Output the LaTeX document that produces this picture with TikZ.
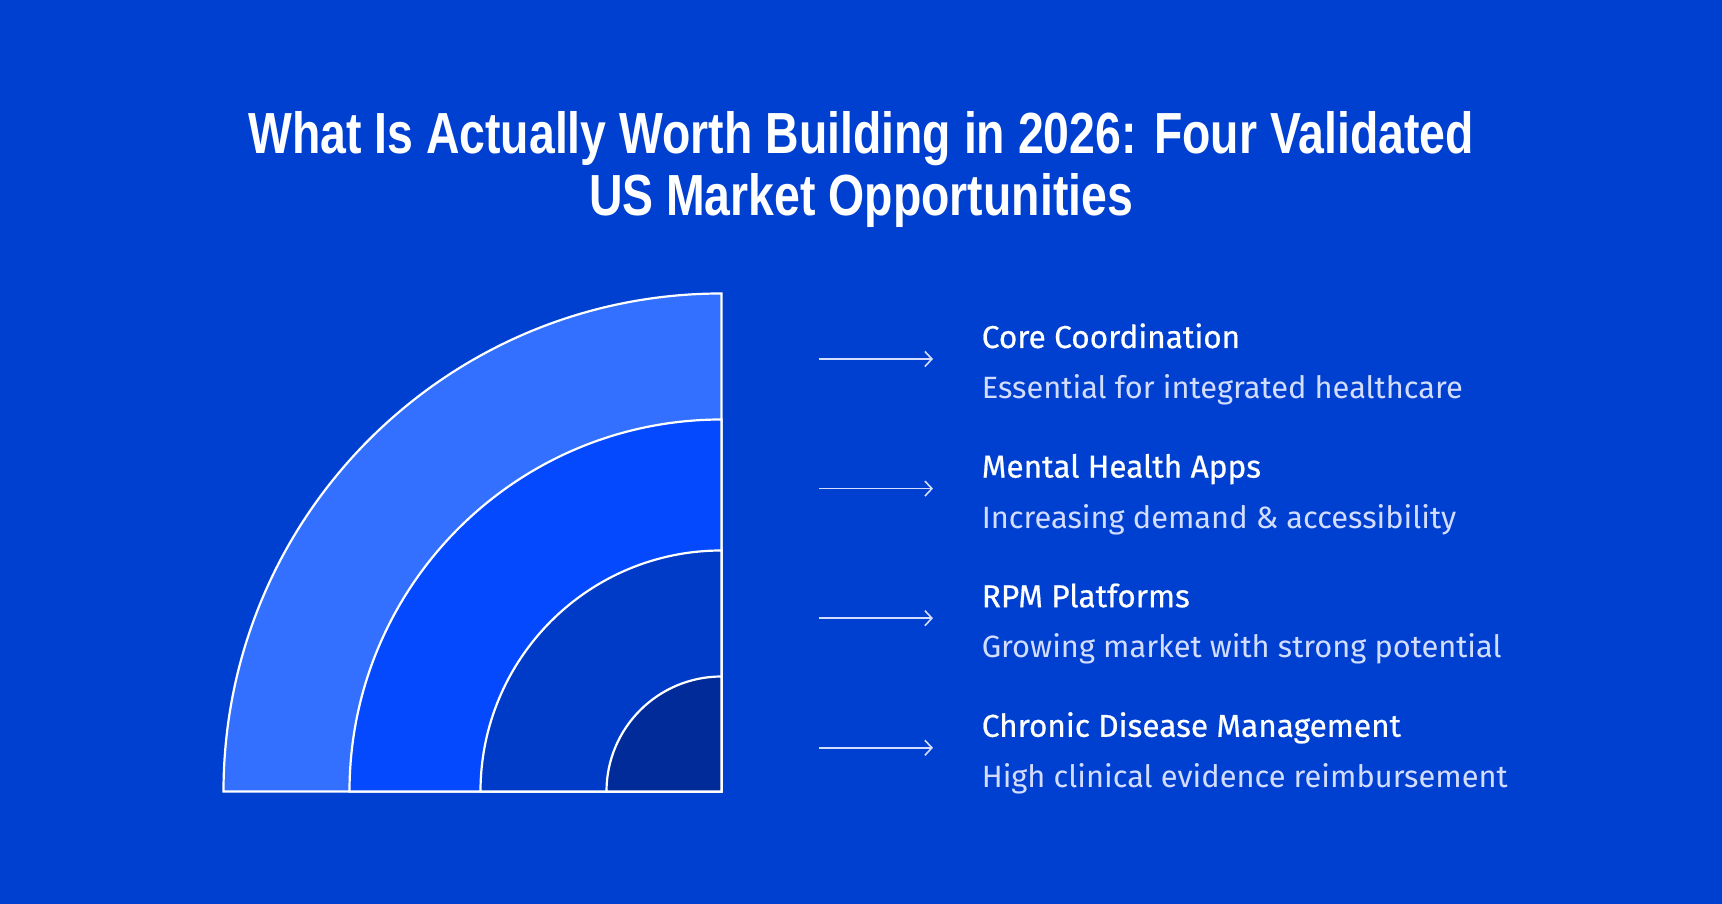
\documentclass[tikz,border=0pt]{standalone}
\usepackage{fontspec}
\setmainfont{Fira Sans}
\newfontfamily\titlefont[FakeStretch=0.80]{Liberation Sans}
\newfontfamily\headfont[FakeBold=0.6]{Fira Sans}
\usepackage{xcolor}
\usepackage{tikz}
\usetikzlibrary{arrows.meta}
\definecolor{bgblue}{HTML}{0040D0}
\definecolor{ringa}{HTML}{3370FF}
\definecolor{ringb}{HTML}{0549FF}
\definecolor{ringc}{HTML}{003BC8}
\definecolor{ringd}{HTML}{002B99}
\definecolor{subtxt}{HTML}{D2DDFF}
\tikzset{
  ring/.style={draw=white,line width=2.2pt},
  head/.style={anchor=base west,text=white,inner sep=0pt,font=\headfont\fontsize{31.6}{36}\selectfont},
  sub/.style={anchor=base west,text=subtxt,inner sep=0pt,font=\fontsize{30.8}{36}\selectfont},
  pointer/.style={draw=subtxt,line width=1.6pt,-{Straight Barb[length=7pt,width=15pt]}}
}

\begin{document}
\begin{tikzpicture}[x=1pt,y=1pt]
\fill[bgblue] (0,0) rectangle (1722,904);
\useasboundingbox (0,0) rectangle (1722,904);

\node[anchor=base,text=white,align=center,inner sep=0pt,font=\titlefont\bfseries\fontsize{58}{62.6}\selectfont] (title) at (861,688)
  {What Is Actually Worth Building in 2026: Four Validated\\US Market Opportunities};

\coordinate (o) at (721.5,112.5);
\filldraw[ring,fill=ringa] (o) -- ++(-498,0) arc[start angle=180,end angle=90,radius=498] -- cycle;
\filldraw[ring,fill=ringb] (o) -- ++(-372,0) arc[start angle=180,end angle=90,radius=372] -- cycle;
\filldraw[ring,fill=ringc] (o) -- ++(-241,0) arc[start angle=180,end angle=90,radius=241] -- cycle;
\filldraw[ring,fill=ringd] (o) -- ++(-115,0) arc[start angle=180,end angle=90,radius=115] -- cycle;

\node[head] (h1) at (981.6,556.0) {Core Coordination};
\node[sub]  (s1) at (981.6,505.4) {Essential for integrated healthcare};
\node[head] (h2) at (981.6,426.4) {Mental Health Apps};
\node[sub]  (s2) at (981.6,375.8) {Increasing demand \& accessibility};
\node[head] (h3) at (981.6,296.8) {RPM Platforms};
\node[sub]  (s3) at (981.6,246.2) {Growing market with strong potential};
\node[head] (h4) at (981.6,167.2) {Chronic Disease Management};
\node[sub]  (s4) at (981.6,116.6) {High clinical evidence reimbursement};

\coordinate (a1) at (819,545.0);   \coordinate (b1) at (933,545.0);
\coordinate (a2) at (819,415.4);   \coordinate (b2) at (933,415.4);
\coordinate (a3) at (819,285.8);   \coordinate (b3) at (933,285.8);
\coordinate (a4) at (819,156.2);   \coordinate (b4) at (933,156.2);
\draw[pointer] (a1) -- (b1);
\draw[pointer] (a2) -- (b2);
\draw[pointer] (a3) -- (b3);
\draw[pointer] (a4) -- (b4);
\end{tikzpicture}
\end{document}
